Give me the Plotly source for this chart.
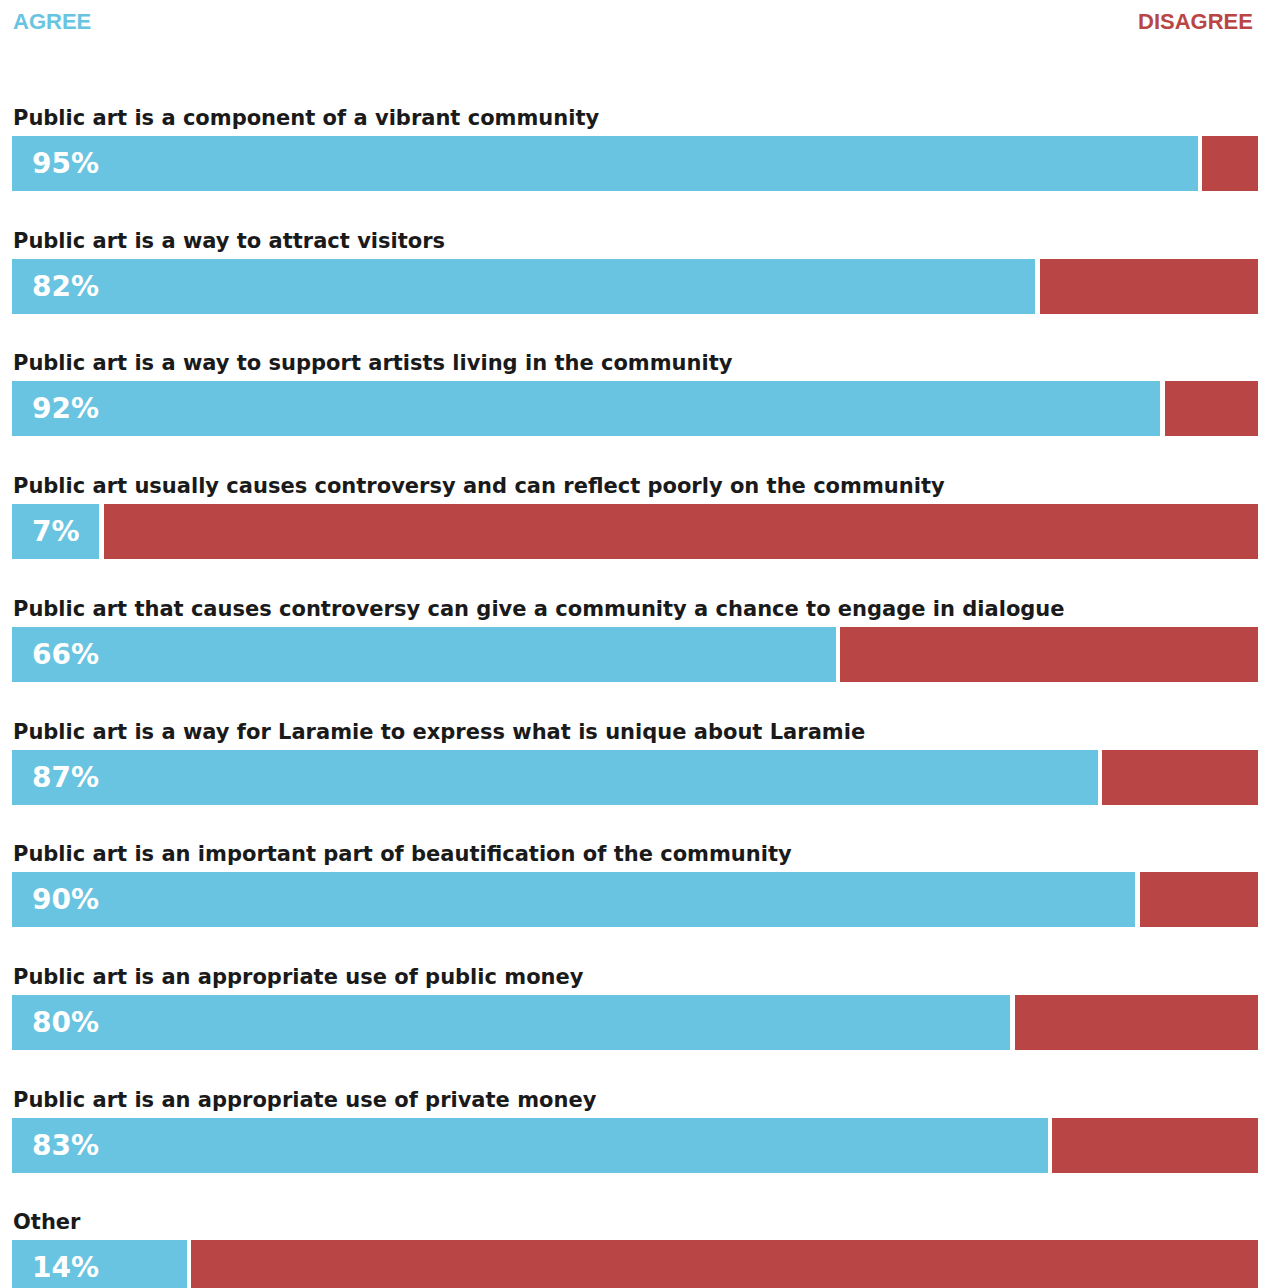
import plotly.graph_objects as go

categories = [
    "Public art is a component of a vibrant community",
    "Public art is a way to attract visitors",
    "Public art is a way to support artists living in the community",
    "Public art usually causes controversy and can reflect poorly on the community",
    "Public art that causes controversy can give a community a chance to engage in dialogue",
    "Public art is a way for Laramie to express what is unique about Laramie",
    "Public art is an important part of beautification of the community",
    "Public art is an appropriate use of public money",
    "Public art is an appropriate use of private money",
    "Other",
]
agree = [95, 82, 92, 7, 66, 87, 90, 80, 83, 14]
disagree = [100 - a for a in agree]

BLUE = "#69C4E1"
RED = "#B94545"
OFF = 8  # page body margin
W, H = 1266 - OFF, 1288 - OFF
X0, X1 = 12 - OFF, 1260 - OFF
scale = (X1 - X0) / 100.0
gap = 4.5 / scale

top0, pitch, bh = 136 - OFF, 122.7, 55
centers = [top0 + bh / 2 + i * pitch for i in range(len(categories))]

fig = go.Figure()
fig.add_trace(go.Bar(orientation="h", y=centers, x=agree, width=bh,
                     marker=dict(color=BLUE, line=dict(width=0)), hoverinfo="skip"))
fig.add_trace(go.Bar(orientation="h", y=centers, x=[d - gap for d in disagree],
                     base=[a + gap for a in agree], width=bh,
                     marker=dict(color=RED, line=dict(width=0)), hoverinfo="skip"))

ann = []
for c, cat, a in zip(centers, categories, agree):
    ann.append(dict(x=0, y=c - bh / 2 - 18, xref="x", yref="y", text=cat, showarrow=False,
                    xanchor="left", yanchor="middle", xshift=-1,
                    font=dict(family="DejaVu Sans", size=21, color="#1a1a1a", weight="bold")))
    ann.append(dict(x=0, y=c, xref="x", yref="y", text=f"{a}%", showarrow=False,
                    xanchor="left", yanchor="middle", xshift=18,
                    font=dict(family="DejaVu Sans", size=28, color="white", weight="bold")))
ann.append(dict(x=0, y=21 - OFF, xref="x", yref="y", text="AGREE", showarrow=False,
                xanchor="left", yanchor="middle", xshift=-1,
                font=dict(family="Liberation Sans, Arial", size=22, color=BLUE, weight="bold")))
ann.append(dict(x=100, y=21 - OFF, xref="x", yref="y", text="DISAGREE", showarrow=False,
                xanchor="right", yanchor="middle", xshift=-5,
                font=dict(family="Liberation Sans, Arial", size=22, color=RED, weight="bold")))

fig.update_layout(
    width=W, height=H, margin=dict(l=0, r=0, t=0, b=0),
    paper_bgcolor="white", plot_bgcolor="white",
    barmode="overlay", showlegend=False, bargap=0,
    annotations=ann,
    xaxis=dict(range=[-X0 / scale, (W - X0) / scale], visible=False, fixedrange=True),
    yaxis=dict(range=[H, 0], visible=False, fixedrange=True),
)
fig.write_html("out.html", config={"displayModeBar": False})
